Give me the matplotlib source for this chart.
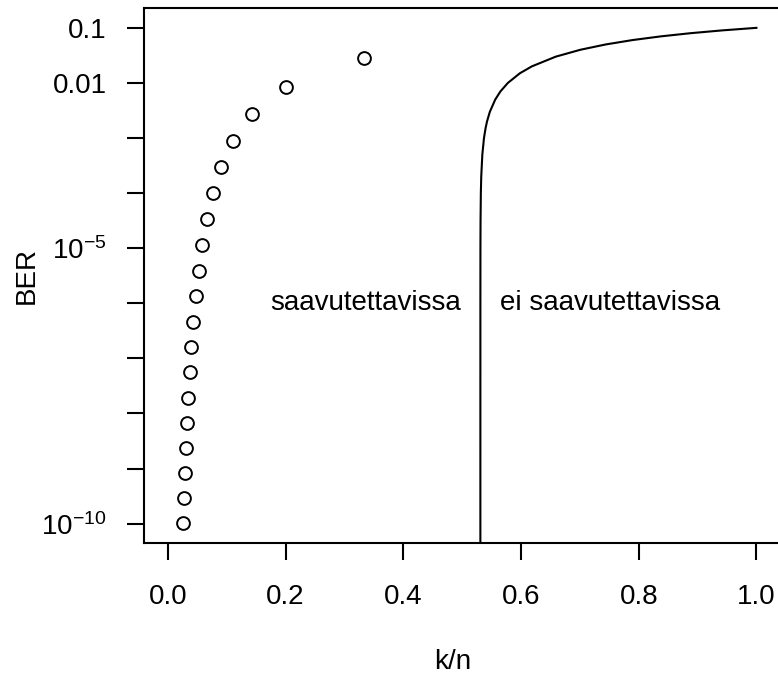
import matplotlib
matplotlib.use("Agg")
import matplotlib.pyplot as plt

plt.rcParams["font.family"] = ["Liberation Sans", "DejaVu Sans"]
plt.rcParams["mathtext.fontset"] = "custom"
plt.rcParams["mathtext.rm"] = "Liberation Sans"
plt.rcParams["mathtext.it"] = "Liberation Sans"

# repetition codes R = 1/n, n = 3, 5, ..., 39 (bit error rate)
rep_rate = [1/3, 1/5, 1/7, 1/9, 1/11, 1/13, 1/15, 1/17, 1/19, 1/21,
            1/23, 1/25, 1/27, 1/29, 1/31, 1/33, 1/35, 1/37, 1/39]
rep_ber = [2.8e-2, 8.56e-3, 2.73e-3, 8.91e-4, 2.96e-4, 9.93e-5, 3.36e-5,
           1.15e-5, 3.93e-6, 1.35e-6, 4.66e-7, 1.61e-7, 5.6e-8, 1.95e-8,
           6.8e-9, 2.37e-9, 8.3e-10, 2.91e-10, 1.02e-10]

# Shannon limit curve (rate, bit error rate)
lim_ber = [1e-15, 1e-10, 1e-6, 1e-5, 3e-5, 1e-4, 2e-4, 5e-4, 1e-3, 1.5e-3,
           2e-3, 3e-3, 5e-3, 7e-3, 1e-2, 1.5e-2, 2e-2, 3e-2, 4e-2, 5e-2,
           6e-2, 7e-2, 8e-2, 9e-2, 1e-1]
lim_rate = [0.53100, 0.53100, 0.53102, 0.53110, 0.53127, 0.53179, 0.53247,
            0.53432, 0.53713, 0.53977, 0.54229, 0.54712, 0.55627, 0.56500,
            0.57768, 0.59820, 0.61849, 0.65910, 0.70080, 0.74412, 0.78950,
            0.83740, 0.88820, 0.94230, 1.00000]

y_ticks = [1e-10, 1e-9, 1e-8, 1e-7, 1e-6, 1e-5, 1e-4, 1e-3, 1e-2, 1e-1]
y_labels = [r"$10^{-10}$", "", "", "", "", r"$10^{-5}$", "", "", "0.01", "0.1"]
x_ticks = [0.0, 0.2, 0.4, 0.6, 0.8, 1.0]

fig = plt.figure(figsize=(7.78, 6.77), dpi=100)
ax = fig.add_axes([0.1855, 0.1975, 0.817, 0.7905])

ax.plot(rep_rate, rep_ber, "o", mfc="none", mec="black", ms=9.2, mew=1.4)
ax.plot(lim_rate, lim_ber, color="black", lw=1.5)

ax.text(0.336, 1e-6, "saavutettavissa", fontsize=20, ha="center", va="center")
ax.text(0.752, 1e-6, "ei saavutettavissa", fontsize=20, ha="center", va="center")

ax.set_yscale("log")
ax.set_xlim(-0.04, 1.04)
ax.set_ylim(10 ** -10.356, 10 ** -0.642)
ax.set_yticks(y_ticks)
ax.set_yticklabels(y_labels)
ax.minorticks_off()
ax.set_xticks(x_ticks)
ax.set_xticklabels(["0.0", "0.2", "0.4", "0.6", "0.8", "1.0"])

ax.tick_params(axis="both", labelsize=20, length=12, width=1.5, direction="out")
ax.tick_params(axis="x", pad=17)
ax.tick_params(axis="y", pad=15)
for sp in ax.spines.values():
    sp.set_linewidth(1.5)

ax.set_xlabel("k/n", fontsize=20)
ax.set_ylabel("BER", fontsize=20)
ax.xaxis.set_label_coords(0.485, -0.222)
ax.yaxis.set_label_coords(-0.1846, 0.5)
ax.xaxis.label.set_va("center")
ax.yaxis.label.set_va("center")

fig.savefig("out.png", dpi=100)
